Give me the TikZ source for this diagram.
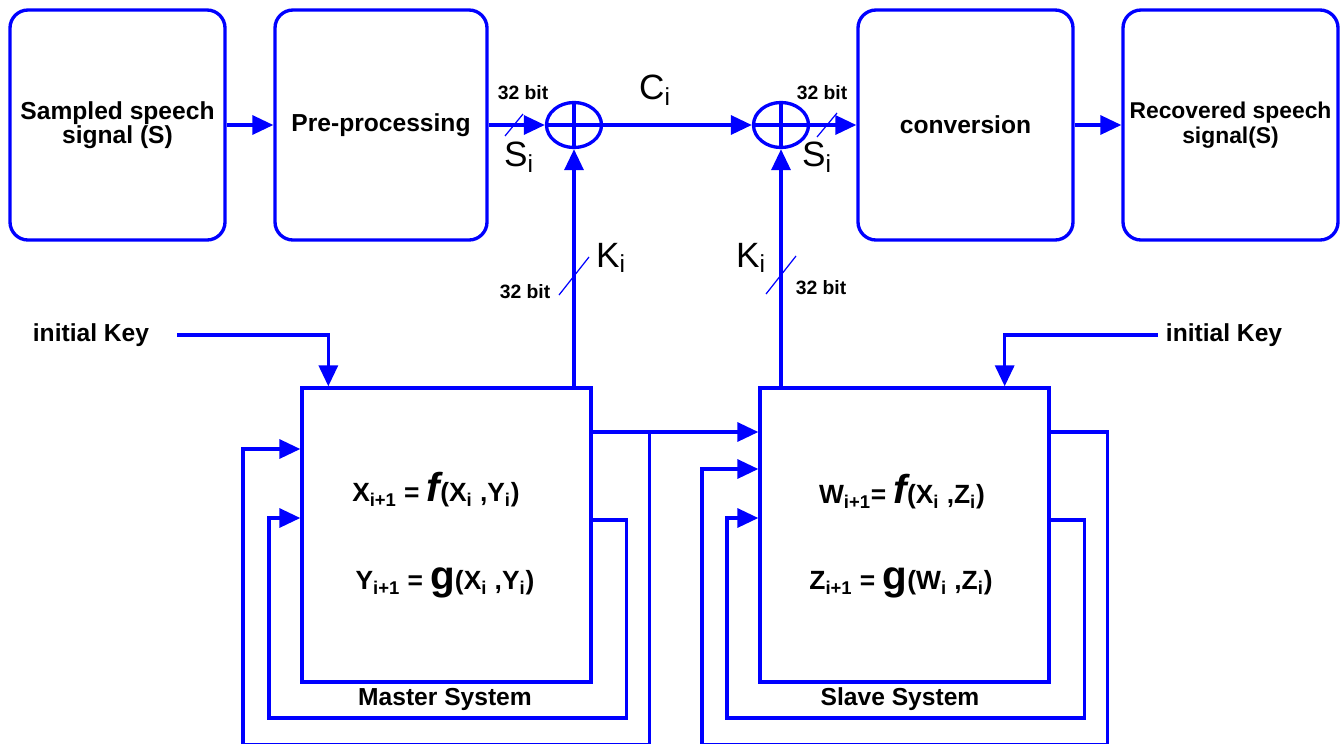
\documentclass[tikz,border=0pt]{standalone}
\usepackage{fontspec}
\setmainfont{Liberation Sans}
\usetikzlibrary{arrows.meta,shapes.geometric}

\newcommand{\bigfn}[1]{{\fontsize{23}{23}\selectfont #1}}

\begin{document}
\begin{tikzpicture}[every node/.style={font=\bfseries\fontsize{14}{14}\selectfont},
	line/.style={blue, line width=1.9pt},
	arr/.style={line, -{Triangle[length=0.42cm,width=0.38cm]}},
	blockbox/.style={draw=blue, line width=1.9pt, rounded corners=0.36cm, minimum width=4.3cm, minimum height=4.6cm, align=center},
	sysbox/.style={draw=blue, line width=1.9pt, minimum width=5.78cm, minimum height=5.88cm},
	xorgate/.style={draw=blue, line width=1.9pt, ellipse, minimum width=1.1cm, minimum height=0.9cm, inner sep=0pt},
	slashmark/.style={blue, line width=0.7pt},
	sym/.style={font=\fontsize{20}{20}\selectfont},
	eqn/.style={font=\bfseries\fontsize{15}{15}\selectfont},
	bits/.style={font=\bfseries\fontsize{11}{11}\selectfont}]
	\useasboundingbox (0,0) rectangle (26.8,-14.86);
	% top row
	\node[blockbox] (sig) at (2.35,-2.5) {Sampled speech\\signal (S)};
	\node[blockbox, minimum width=4.24cm] (pre) at (7.62,-2.5) {Pre-processing};
	\node[blockbox] (conv) at (19.31,-2.5) {conversion};
	\node[blockbox, font=\bfseries\fontsize{13}{14}\selectfont] (rec) at (24.61,-2.5) {Recovered speech\\signal(S)};
	\node[xorgate] (xor1) at (11.48,-2.5) {};
	\node[xorgate] (xor2) at (15.62,-2.5) {};
	\foreach \g in {xor1,xor2} {\draw[line] (\g.north) -- (\g.south) (\g.west) -- (\g.east);}
	\draw[arr] (sig) -- (pre);
	\draw[arr] (pre) -- (xor1);
	\draw[arr] (xor1) -- (xor2);
	\draw[arr] (xor2) -- (conv);
	\draw[arr] (conv) -- (rec);
	% chaotic systems
	\node[sysbox] (master) at (8.93,-10.7) {};
	\node[sysbox] (slave) at (18.09,-10.7) {};
	\node[eqn] (xeq) at (8.72,-9.8) {X\textsubscript{i+1} = \bigfn{\itshape f}(X\textsubscript{i} ,Y\textsubscript{i})};
	\node[eqn] (yeq) at (8.9,-11.66) {Y\textsubscript{i+1} = \bigfn{g}(X\textsubscript{i} ,Y\textsubscript{i})};
	\node[eqn] (weq) at (18.04,-9.84) {W\textsubscript{i+1}= \bigfn{\itshape f}(X\textsubscript{i} ,Z\textsubscript{i})};
	\node[eqn] (zeq) at (18.02,-11.66) {Z\textsubscript{i+1} = \bigfn{g}(W\textsubscript{i} ,Z\textsubscript{i})};
	\node (mlab) at (8.9,-13.98) {Master System};
	\node (slab) at (18.0,-13.98) {Slave System};
	\draw[arr] (xor1 |- master.north) -- (xor1);
	\draw[arr] (xor2 |- slave.north) -- (xor2);
	% key inputs
	\node (ikm) at (1.82,-6.7) {initial Key};
	\node (iks) at (24.48,-6.7) {initial Key};
	\draw[arr] ([xshift=0.44cm]ikm.east) -| ([xshift=0.56cm]master.north west);
	\draw[arr] ([xshift=-0.04cm]iks.west) -| ([xshift=-0.92cm]slave.north east);
	% feedback loops
	\coordinate (mo1) at ([yshift=2.06cm]master.east);
	\coordinate (mi1) at ([yshift=1.72cm]master.west);
	\coordinate (mo2) at ([yshift=0.3cm]master.east);
	\coordinate (mi2) at ([yshift=0.34cm]master.west);
	\coordinate (so1) at ([yshift=2.06cm]slave.east);
	\coordinate (si1) at ([yshift=1.32cm]slave.west);
	\coordinate (so2) at ([yshift=0.3cm]slave.east);
	\coordinate (si2) at ([yshift=0.34cm]slave.west);
	\draw[arr] (mo1) -- (mo1 -| slave.west);
	\draw[arr] (mo1) -- ++(1.14,0) |- (4.86,-14.9) |- (mi1);
	\draw[arr] (mo2) -- ++(0.68,0) |- (5.38,-14.36) |- (mi2);
	\draw[arr] (so1) -- ++(1.14,0) |- (14.04,-14.9) |- (si1);
	\draw[arr] (so2) -- ++(0.68,0) |- (14.54,-14.36) |- (si2);
	% bus widths and labels
	\foreach \x/\y/\dx/\dy in {10.28/-2.5/0.18/0.22, 16.54/-2.5/0.2/0.24, 11.48/-5.52/0.3/0.38, 15.62/-5.5/0.3/0.38}
		{\draw[slashmark] (\x,\y) ++(-\dx,-\dy) -- ++(2*\dx,2*\dy);}
	\node[bits] (b1) at (10.46,-1.86) {32 bit};
	\node[bits] (b2) at (16.44,-1.86) {32 bit};
	\node[bits] (b3) at (10.5,-5.84) {32 bit};
	\node[bits] (b4) at (16.42,-5.76) {32 bit};
	\node[sym] (s1) at (10.38,-3.14) {S\textsubscript{i}};
	\node[sym] (s2) at (16.34,-3.14) {S\textsubscript{i}};
	\node[sym] (c1) at (13.1,-1.8) {C\textsubscript{i}};
	\node[sym] (k1) at (12.22,-5.16) {K\textsubscript{i}};
	\node[sym] (k2) at (15.02,-5.16) {K\textsubscript{i}};
\end{tikzpicture}
\end{document}
